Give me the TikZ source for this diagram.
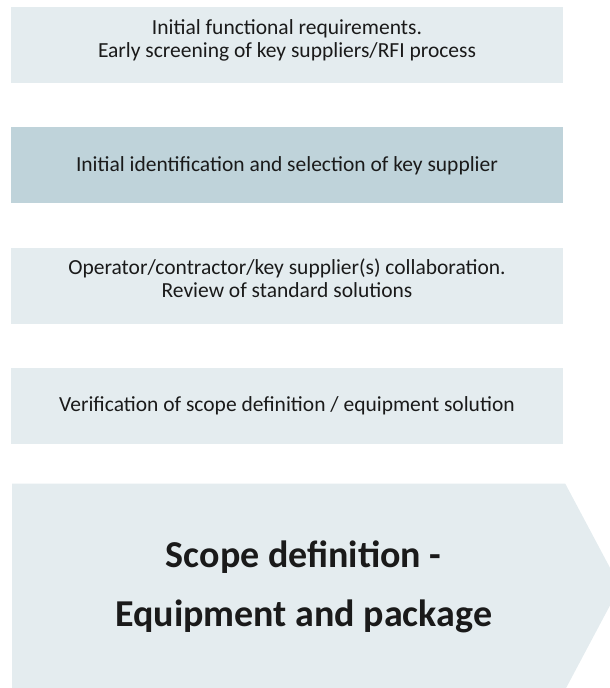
\documentclass[tikz,border=0pt]{standalone}
\usepackage{fontspec}
\setmainfont{Carlito}
\definecolor{paleblue}{RGB}{228,236,239}
\definecolor{greyblue}{RGB}{191,211,218}
\definecolor{inktext}{RGB}{26,26,26}
\usetikzlibrary{positioning, shapes.symbols}
\tikzset{
x=1pt, y=1pt, % one unit is one pixel of the sketch
node distance=44pt, % gap between two activity boxes
activity/.style={fill=paleblue, draw=none, text=inktext, align=center, minimum width=552pt, minimum height=76pt, inner sep=0pt, font=\fontsize{21.5}{23}\selectfont}, % sets the properties of each activity box
twolines/.style={text height=43pt, text depth=19pt}, % lifts a two-line text a little, as in the sketch
keyactivity/.style={activity, fill=greyblue}, % the highlighted activity
phase/.style={signal, signal to=east, signal pointer angle=124, fill=paleblue, draw=none, minimum width=608pt, minimum height=206pt, inner sep=0pt}, % the arrow at the bottom
}

\begin{document}
\begin{tikzpicture}
      \useasboundingbox (0,0) rectangle (610,-688);
      \node[activity, twolines] (req) at (287,-45) {Initial functional requirements.\\Early screening of key suppliers/RFI process};
      \node[keyactivity, below=of req] (sel) {Initial identification and selection of key supplier};
      \node[activity, twolines, below=of sel] (collab) {Operator/contractor/key supplier(s) collaboration.\\Review of standard solutions};
      \node[activity, below=of collab] (verif) {Verification of scope definition / equipment solution};
      \node[phase, below=39pt of verif.south west, anchor=north west, xshift=1pt] (scope) {};
      \node[text=inktext, align=center, font=\fontsize{38}{59}\selectfont\bfseries, xshift=15pt] (scopetext) at (scope.center) {Scope definition -\\Equipment and package};
    \end{tikzpicture}
\end{document}
